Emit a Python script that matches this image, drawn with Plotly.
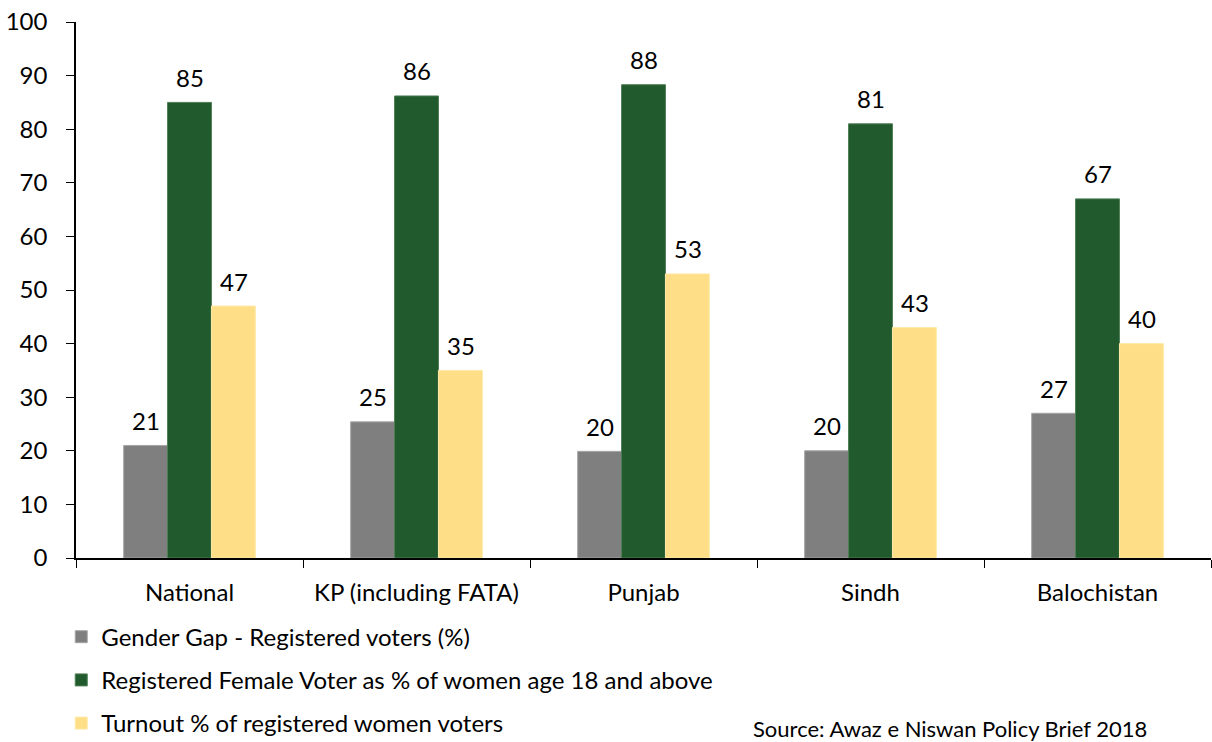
import plotly.graph_objects as go

categories = ["National", "KP (including FATA)", "Punjab", "Sindh", "Balochistan"]
gender_gap = [21.0, 25.4, 19.9, 20.0, 27.0]
registered_female = [85.0, 86.2, 88.3, 81.0, 67.0]
turnout = [47.0, 35.0, 53.0, 43.0, 40.0]

series_names = [
    "Gender Gap - Registered voters (%)",
    "Registered Female Voter as % of women age 18 and above",
    "Turnout % of registered women voters",
]
colors = ["#7F7F7F", "#215A2C", "#FEDF87"]
line_colors = ["#A6A6A6", "#4E7D55", "#FEE9A8"]
y_ticks = [0, 10, 20, 30, 40, 50, 60, 70, 80, 90, 100]

FONT = "Lato, Open Sans, sans-serif"
FS = 24
BAR_PX = 44  # approximate pixel width of one bar in the group

fig = go.Figure()
all_series = [gender_gap, registered_female, turnout]
annotations = []
for i, (name, vals) in enumerate(zip(series_names, all_series)):
    fig.add_trace(go.Bar(
        x=categories, y=vals, name=name,
        marker=dict(color=colors[i], line=dict(color=line_colors[i], width=1)),
        legendgroup=f"g{i}",
    ))
    for cat, v in zip(categories, vals):
        annotations.append(dict(
            x=cat, y=v, xref="x", yref="y", text=f"{v:.0f}", showarrow=False,
            xshift=(i - 1) * BAR_PX, yshift=25, yanchor="middle",
            font=dict(size=FS, family=FONT, color="#000000"),
        ))

annotations.append(dict(
    text="Source: Awaz e Niswan Policy Brief 2018", xref="paper", yref="paper",
    x=0.77, y=-0.319, xanchor="center", yanchor="middle", showarrow=False,
    font=dict(size=22, family=FONT, color="#000000"),
))

fig.update_layout(
    width=1212, height=742,
    margin=dict(l=76, r=1, t=22, b=184, autoexpand=False),
    paper_bgcolor="white", plot_bgcolor="white",
    barmode="group", bargap=0.42, bargroupgap=0,
    font=dict(family=FONT, size=FS, color="#000000"),
    showlegend=True,
    legend=dict(
        orientation="v", x=-0.013, xanchor="left", y=-0.35, yanchor="bottom",
        font=dict(size=FS, family=FONT), tracegroupgap=9,
        bgcolor="rgba(0,0,0,0)", traceorder="grouped",
    ),
    xaxis=dict(
        type="category", showline=True, linecolor="#000000", linewidth=1.5,
        ticks="outside", tickson="boundaries", ticklen=8, tickcolor="#000000",
        tickfont=dict(size=FS), ticklabelstandoff=12, showgrid=False,
        range=[-0.5, 4.5],
    ),
    yaxis=dict(
        range=[0, 100], tickvals=y_ticks, showline=True, linecolor="#000000",
        linewidth=1.5, ticks="outside", ticklen=8, tickcolor="#000000",
        tickfont=dict(size=FS), ticklabelstandoff=14, showgrid=False,
        zeroline=False,
    ),
    annotations=annotations,
)

fig.write_html("out.html")
